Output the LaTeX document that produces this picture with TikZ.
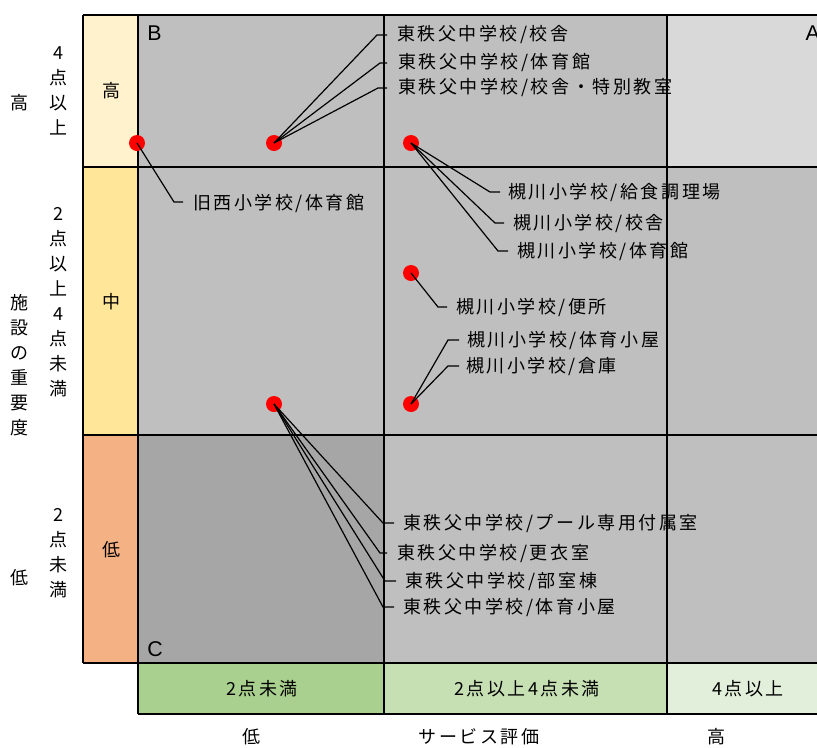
\documentclass[tikz,border=0pt]{standalone}
\usepackage{fontspec}
\setmainfont{Noto Sans CJK JP}
\newfontfamily\jp[LetterSpace=14]{Noto Sans CJK JP}
\newfontfamily\jpv{Noto Sans CJK JP}
\newfontfamily\latin{Liberation Sans}
\definecolor{cellA}{HTML}{D9D9D9}
\definecolor{cellB}{HTML}{BFBFBF}
\definecolor{cellC}{HTML}{A6A6A6}
\definecolor{rowH}{HTML}{FFF2CC}
\definecolor{rowM}{HTML}{FFE699}
\definecolor{rowL}{HTML}{F4B183}
\definecolor{colL}{HTML}{A9D08E}
\definecolor{colM}{HTML}{C6E0B4}
\definecolor{colH}{HTML}{E2EFDA}
\begin{document}
\begin{tikzpicture}[x=0.75pt,y=-0.75pt,
  grid/.style={line width=1.5pt},
  lead/.style={line width=0.9pt},
  dot/.style={circle,fill=red,inner sep=0pt,minimum size=12pt},
  lbl/.style={anchor=west,inner sep=0pt,font=\jp\fontsize{13.5}{15}\selectfont},
  ctr/.style={inner sep=0pt,font=\jp\fontsize{13.5}{15}\selectfont},
  vert/.style={inner sep=0pt,align=center,font=\jpv\fontsize{13.5}{18.75}\selectfont},
  corner/.style={inner sep=0pt,font=\latin\fontsize{16}{16}\selectfont}]
\useasboundingbox (0,0) rectangle (817,747);
% cells
\fill[cellB] (138,15) rectangle (384,167);
\fill[cellB] (384,15) rectangle (667,167);
\fill[cellA] (667,15) rectangle (817,167);
\fill[cellB] (138,167) rectangle (817,435);
\fill[cellC] (138,435) rectangle (384,663);
\fill[cellB] (384,435) rectangle (817,663);
\fill[rowH] (83,15) rectangle (138,167);
\fill[rowM] (83,167) rectangle (138,435);
\fill[rowL] (83,435) rectangle (138,663);
\fill[colL] (138,663) rectangle (384,714);
\fill[colM] (384,663) rectangle (667,714);
\fill[colH] (667,663) rectangle (817,714);
% grid
\draw[grid] (83,15) -- (817,15);
\draw[grid] (83,167) -- (817,167);
\draw[grid] (83,435) -- (817,435);
\draw[grid] (83,663) -- (817,663);
\draw[grid] (138,714) -- (817,714);
\draw[grid] (83,15) -- (83,663);
\draw[grid] (138,15) -- (138,714);
\draw[grid] (384,15) -- (384,714);
\draw[grid] (667,15) -- (667,714);
% corner letters
\node[corner,anchor=west] (cB) at (147,33) {B};
\node[corner,anchor=east] (cA) at (820,33) {A};
\node[corner,anchor=west] (cC) at (147,649) {C};
% row labels
\node[ctr] (rH) at (111,91) {高};
\node[ctr] (rM) at (111,302) {中};
\node[ctr] (rL) at (111,550) {低};
% column labels
\node[ctr] (cL) at (262,689) {2点未満};
\node[ctr] (cM) at (527,689) {2点以上4点未満};
\node[ctr] (cH) at (748,689) {4点以上};
% axis labels
\node[ctr] (aL) at (251,737) {低};
\node[ctr] (aM) at (479,737) {サービス評価};
\node[ctr] (aH) at (716,737) {高};
\node[vert] (yH) at (19,103) {高};
\node[vert] (yM) at (19,365) {施\\設\\の\\重\\要\\度};
\node[vert] (yL) at (19,578) {低};
\node[vert] (sH) at (58,91) {4\\点\\以\\上};
\node[vert] (sM) at (58,302) {2\\点\\以\\上\\4\\点\\未\\満};
\node[vert] (sL) at (58,553) {2\\点\\未\\満};
% dots
\node[dot] (d1) at (137,143) {};
\node[dot] (d2) at (274,143) {};
\node[dot] (d3) at (411,143) {};
\node[dot] (d4) at (411,273) {};
\node[dot] (d5) at (411,404) {};
\node[dot] (d6) at (274,404) {};
% labels
\node[lbl] (t1) at (397,35) {東秩父中学校/校舎};
\node[lbl] (t2) at (398,63) {東秩父中学校/体育館};
\node[lbl] (t3) at (398,88) {東秩父中学校/校舎・特別教室};
\node[lbl] (t4) at (193,203) {旧西小学校/体育館};
\node[lbl] (t5) at (508,192) {槻川小学校/給食調理場};
\node[lbl] (t6) at (513,223) {槻川小学校/校舎};
\node[lbl] (t7) at (517,251) {槻川小学校/体育館};
\node[lbl] (t8) at (456,307) {槻川小学校/便所};
\node[lbl] (t9) at (467,340) {槻川小学校/体育小屋};
\node[lbl] (t10) at (466,366) {槻川小学校/倉庫};
\node[lbl] (t11) at (403,523) {東秩父中学校/プール専用付属室};
\node[lbl] (t12) at (397,553) {東秩父中学校/更衣室};
\node[lbl] (t13) at (405,581) {東秩父中学校/部室棟};
\node[lbl] (t14) at (403,607) {東秩父中学校/体育小屋};
% leader bends and ends
\coordinate (b1) at (377,35);  \coordinate (e1) at (387,35);
\coordinate (b2) at (380,63);  \coordinate (e2) at (387,63);
\coordinate (b3) at (378,88);  \coordinate (e3) at (387,88);
\coordinate (b4) at (174,202); \coordinate (e4) at (183,202);
\coordinate (b5) at (490,192); \coordinate (e5) at (500,192);
\coordinate (b6) at (495,223); \coordinate (e6) at (504,223);
\coordinate (b7) at (498,251); \coordinate (e7) at (508,251);
\coordinate (b8) at (438,307); \coordinate (e8) at (447,307);
\coordinate (b9) at (448,340); \coordinate (e9) at (459,340);
\coordinate (b10) at (448,366); \coordinate (e10) at (459,366);
\coordinate (b11) at (383,523); \coordinate (e11) at (394,523);
\coordinate (b12) at (380,553); \coordinate (e12) at (387,553);
\coordinate (b13) at (385,581); \coordinate (e13) at (396,581);
\coordinate (b14) at (383,607); \coordinate (e14) at (394,607);
\draw[lead] (d2.center) -- (b1) -- (e1);
\draw[lead] (d2.center) -- (b2) -- (e2);
\draw[lead] (d2.center) -- (b3) -- (e3);
\draw[lead] (d1.center) -- (b4) -- (e4);
\draw[lead] (d3.center) -- (b5) -- (e5);
\draw[lead] (d3.center) -- (b6) -- (e6);
\draw[lead] (d3.center) -- (b7) -- (e7);
\draw[lead] (d4.center) -- (b8) -- (e8);
\draw[lead] (d5.center) -- (b9) -- (e9);
\draw[lead] (d5.center) -- (b10) -- (e10);
\draw[lead] (d6.center) -- (b11) -- (e11);
\draw[lead] (d6.center) -- (b12) -- (e12);
\draw[lead] (d6.center) -- (b13) -- (e13);
\draw[lead] (d6.center) -- (b14) -- (e14);
\end{tikzpicture}
\end{document}
